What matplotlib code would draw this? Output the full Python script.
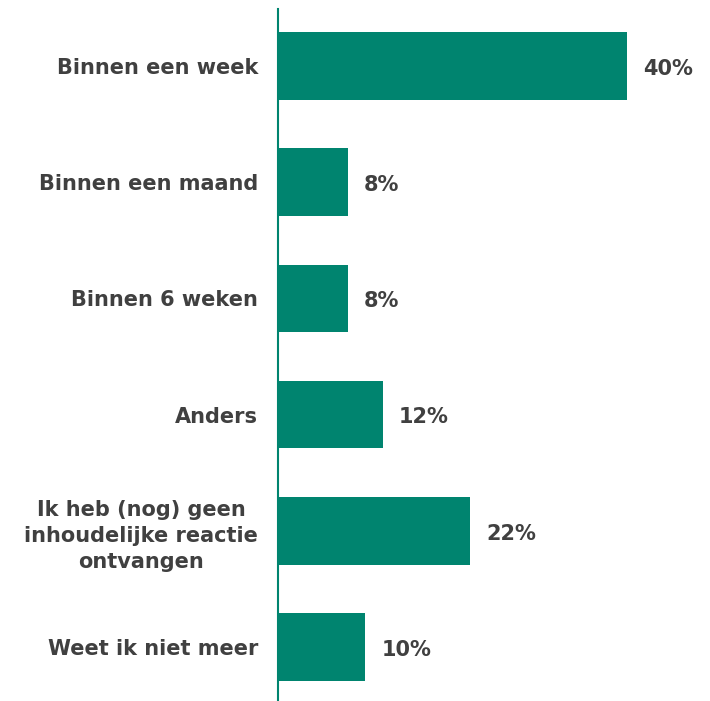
import matplotlib
matplotlib.use("Agg")
import matplotlib.pyplot as plt

categories = [
    "Binnen een week",
    "Binnen een maand",
    "Binnen 6 weken",
    "Anders",
    "Ik heb (nog) geen\ninhoudelijke reactie\nontvangen",
    "Weet ik niet meer",
]
values = [40, 8, 8, 12, 22, 10]
value_labels = ["40%", "8%", "8%", "12%", "22%", "10%"]

BAR = "#00846F"
TEXT = "#404040"
FS = 15

W, H, DPI = 710, 701, 100
fig = plt.figure(figsize=(W / DPI, H / DPI), dpi=DPI)
ax = fig.add_axes([278 / W, -3 / H, 432 / W, 695 / H])

y = list(range(len(categories)))
ax.barh(y, values, height=0.58, color=BAR)
ax.set_ylim(len(categories) - 0.51, -0.49)
ax.set_xlim(0, 432 / 8.73)

for yi, v, lab in zip(y, values, value_labels):
    ax.annotate(lab, (v, yi), xytext=(11.5, -2), textcoords="offset points",
                ha="left", va="center", fontsize=FS, fontweight="bold",
                color=TEXT)

ax.set_yticks(y)
ax.set_yticklabels(categories, fontsize=FS, fontweight="bold", color=TEXT,
                   multialignment="center", linespacing=1.37)
ax.tick_params(axis="y", length=0, pad=14.4)
ax.set_xticks([])
for s in ["top", "right", "bottom"]:
    ax.spines[s].set_visible(False)
ax.spines["left"].set_color(BAR)
ax.spines["left"].set_linewidth(1.5)

fig.savefig("out.png", dpi=DPI)
